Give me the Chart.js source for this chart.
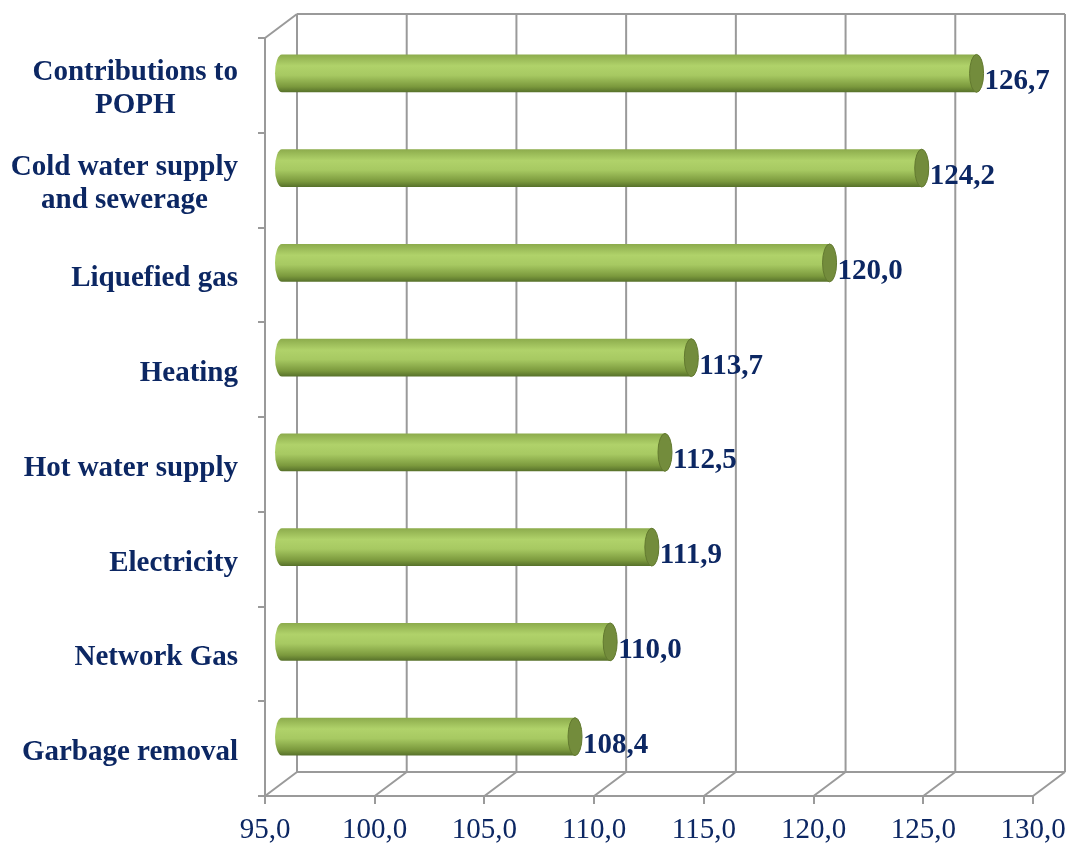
<!DOCTYPE html>
<html><head><meta charset="utf-8">
<script src="https://cdn.jsdelivr.net/npm/chart.js@4.4.0/dist/chart.umd.min.js"></script>
<style>html,body{margin:0;padding:0;background:#fff}#w{width:1068px;height:844px}</style>
</head><body><div id="w"><canvas id="c" width="1068" height="844"></canvas></div>
<script>
const categories = [["Contributions to","POPH"],["Cold water supply","and sewerage"],"Liquefied gas","Heating","Hot water supply","Electricity","Network Gas","Garbage removal"];
const values = [126.7,124.2,120.0,113.7,112.5,111.9,110.0,108.4];
const xTicks = [95,100,105,110,115,120,125,130];

const NAVY = '#0c2763';
const GRID = '#9a9a9a';
const SERIF = '"Liberation Serif", "Times New Roman", serif';
const DX = 32, DY = -24; // depth offset (back wall)
const fmt = v => v.toFixed(1).replace('.', ',');

const wallPlugin = {
  id: 'wall',
  beforeDatasetsDraw(chart) {
    const {ctx, chartArea: a, scales: {x}} = chart;
    ctx.save();
    ctx.strokeStyle = GRID; ctx.lineWidth = 2;
    ctx.beginPath();
    xTicks.forEach(v => {
      const px = x.getPixelForValue(v);
      ctx.moveTo(px + DX, a.top + DY); ctx.lineTo(px + DX, a.bottom + DY);
      ctx.moveTo(px, a.bottom); ctx.lineTo(px + DX, a.bottom + DY);
    });
    ctx.moveTo(a.left + DX, a.top + DY); ctx.lineTo(a.right + DX, a.top + DY);
    ctx.moveTo(a.left + DX, a.bottom + DY); ctx.lineTo(a.right + DX, a.bottom + DY);
    ctx.moveTo(a.left, a.top); ctx.lineTo(a.left + DX, a.top + DY);
    ctx.stroke();
    ctx.restore();
  }
};

// category labels: block right-aligned, lines centred within the block
const catLabelPlugin = {
  id: 'catLabels',
  afterDraw(chart) {
    const {ctx, scales: {y}} = chart;
    ctx.save();
    ctx.fillStyle = NAVY;
    ctx.font = 'bold 29px ' + SERIF;
    ctx.textAlign = 'center';
    ctx.textBaseline = 'middle';
    const right = y.right - 27, lh = 33;
    categories.forEach((lab, i) => {
      const lines = Array.isArray(lab) ? lab : [lab];
      const w = Math.max(...lines.map(l => ctx.measureText(l).width));
      const cx = right - w / 2;
      const cy = y.getPixelForTick(i) + 4;
      lines.forEach((l, j) => {
        ctx.fillText(l, cx, cy + (j - (lines.length - 1) / 2) * lh);
      });
    });
    ctx.restore();
  }
};

const cylPlugin = {
  id: 'cyl',
  afterDatasetsDraw(chart) {
    const {ctx} = chart;
    const meta = chart.getDatasetMeta(0);
    ctx.save();
    ctx.translate(DX / 2, DY / 2);
    meta.data.forEach((el, i) => {
      const {x: xe, y, base, height: h} = el.getProps(['x', 'y', 'base', 'height'], true);
      const top = y - h / 2, bot = y + h / 2, rx = 7, ry = h / 2;
      const g = ctx.createLinearGradient(0, top, 0, bot);
      g.addColorStop(0, '#8cab4c');
      g.addColorStop(0.3, '#b0d26a');
      g.addColorStop(0.55, '#a7c962');
      g.addColorStop(0.85, '#7b993d');
      g.addColorStop(1, '#56702a');
      ctx.fillStyle = g;
      ctx.beginPath();
      ctx.moveTo(base, top);
      ctx.lineTo(xe, top);
      ctx.lineTo(xe, bot);
      ctx.lineTo(base, bot);
      ctx.ellipse(base, y, rx, ry, 0, Math.PI / 2, Math.PI * 1.5);
      ctx.closePath();
      ctx.fill();
      // end cap
      ctx.beginPath();
      ctx.ellipse(xe, y, rx, ry, 0, 0, Math.PI * 2);
      ctx.fillStyle = '#738c3c';
      ctx.fill();
      ctx.strokeStyle = '#62792f';
      ctx.lineWidth = 1;
      ctx.stroke();
      // value label
      ctx.fillStyle = NAVY;
      ctx.font = 'bold 29px ' + SERIF;
      ctx.textAlign = 'left';
      ctx.textBaseline = 'alphabetic';
      ctx.fillText(fmt(values[i]), xe + rx + 1, y + 16);
    });
    ctx.restore();
  }
};

new Chart(document.getElementById('c'), {
  type: 'bar',
  data: {
    labels: categories,
    datasets: [{ data: values, base: 95, backgroundColor: 'rgba(0,0,0,0)', borderWidth: 0,
      barPercentage: 0.8, categoryPercentage: 0.5 }]
  },
  options: {
    indexAxis: 'y',
    responsive: false,
    animation: false,
    layout: { padding: { top: 38, right: 35, left: 0, bottom: 0 } },
    plugins: { legend: { display: false }, tooltip: { enabled: false } },
    scales: {
      x: {
        type: 'linear', min: 95, max: 130,
        afterBuildTicks: s => { s.ticks = xTicks.map(v => ({ value: v })); },
        afterFit: s => { s.height = 48; s.paddingLeft = 0; s.paddingRight = 0; },
        grid: { drawOnChartArea: false, drawTicks: true, tickLength: 8, color: GRID, lineWidth: 2 },
        border: { display: true, color: GRID, width: 2 },
        ticks: { color: NAVY, padding: 10, font: { family: SERIF, size: 29, lineHeight: 1.1 },
          callback: v => fmt(v), maxRotation: 0, autoSkip: false }
      },
      y: {
        afterFit: s => { s.width = 265; s.paddingTop = 0; s.paddingBottom = 0; },
        grid: { drawOnChartArea: false, drawTicks: true, tickLength: 7, color: GRID, lineWidth: 2, offset: true },
        border: { display: true, color: GRID, width: 2 },
        ticks: { display: false }
      }
    }
  },
  plugins: [wallPlugin, cylPlugin, catLabelPlugin]
});
</script>
</body></html>
